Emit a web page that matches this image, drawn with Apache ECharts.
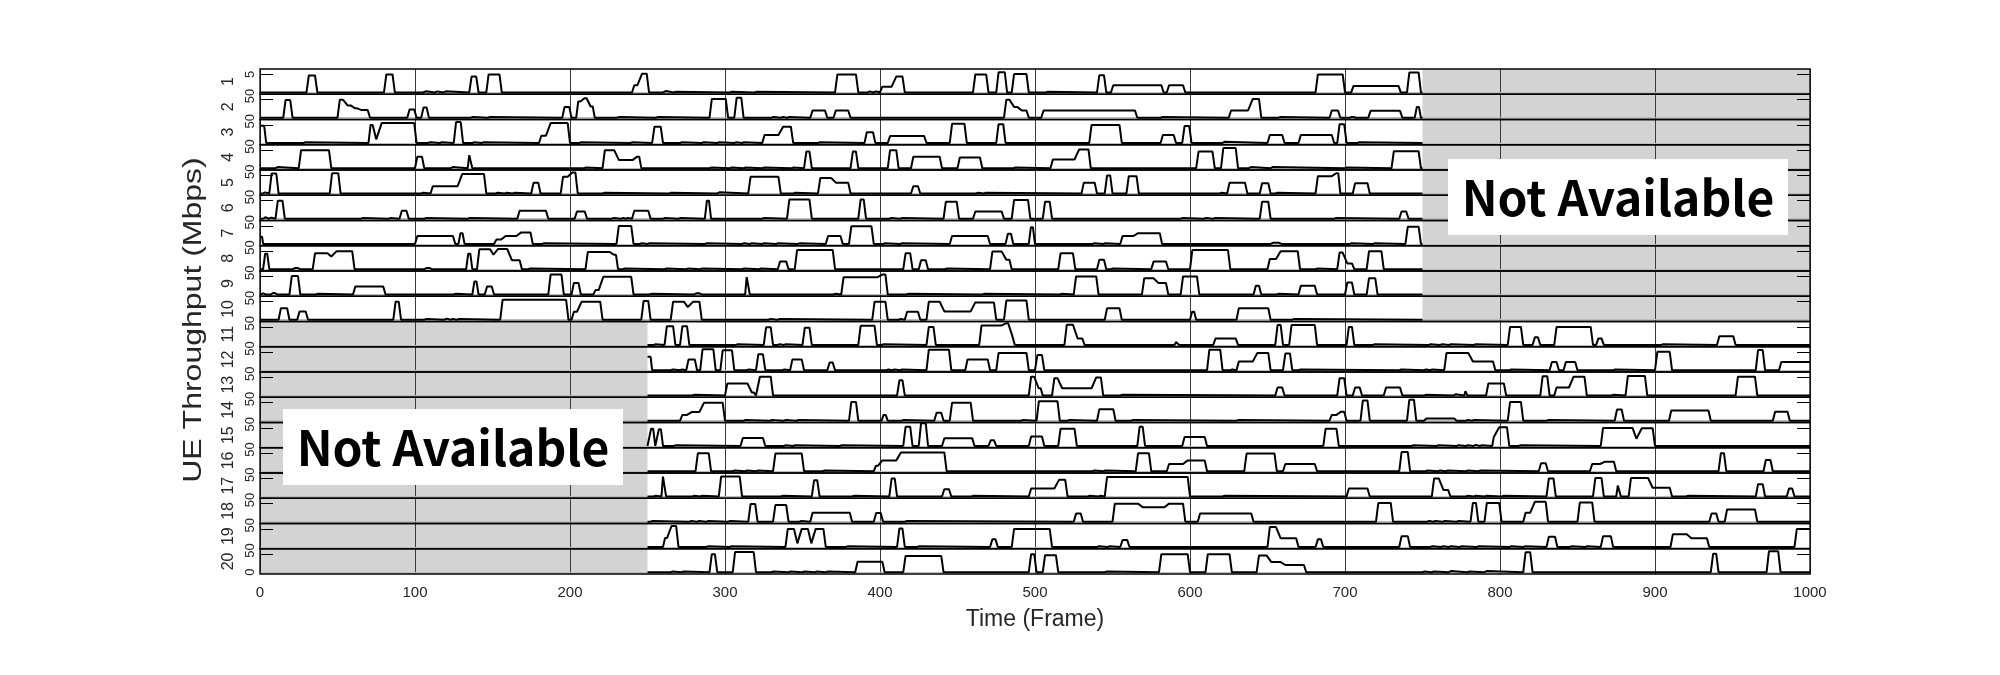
<!DOCTYPE html>
<html>
<head>
<meta charset="utf-8">
<script src="https://cdn.jsdelivr.net/npm/echarts@6/dist/echarts.min.js"></script>
<style>html,body{margin:0;padding:0;background:#fff}#chart{width:2000px;height:675px}</style>
</head>
<body>
<div id="chart"></div>
<script>
// ---------------- data ----------------
// each pulse: [start frame, end frame, throughput Mbps]
const ueLabels = ['1','2','3','4','5','6','7','8','9','10','11','12','13','14','15','16','17','18','19','20'];
const xTickLabels = [0,100,200,300,400,500,600,700,800,900,1000];
const yTickValues = [0, 5];
const topAvail = [0, 750];      // UEs 1-10 available frames
const bottomAvail = [250, 1000]; // UEs 11-20 available frames
const topNA = [750, 1000];
const bottomNA = [0, 250];

const ue1 = [[30,37,4.7],[80,87,5.0],[105,108,0.3],[113,115,0.3],[118,121,0.3],[135,141,4.4],[146,156,5.0],[240,245,2.0],[245,251,5.2],[260,263,0.4],[267,269,0.2],[303,305,0.2],[319,321,0.2],[371,386,5.0],[392,394,0.3],[396,398,0.3],[400,409,1.6],[409,416,4.4],[460,470,5.0],[475,482,5.6],[485,496,5.1],[507,509,0.2],[540,546,4.8],[549,583,2.0],[585,597,2.0],[681,700,5.0],[704,736,1.8],[740,749,5.5]];
const ue2 = [[15,21,4.9],[50,55,5.0],[55,60,3.4],[60,64,2.6],[64,71,2.1],[95,101,2.3],[104,109,2.8],[136,138,0.2],[147,149,0.2],[195,201,3.0],[204,208,4.5],[208,212,5.4],[212,216,3.1],[230,233,0.2],[255,258,0.2],[290,302,5.2],[306,312,5.5],[330,332,0.2],[336,338,0.2],[340,342,0.2],[355,366,2.0],[370,381,2.0],[480,485,5.0],[485,490,3.0],[490,496,2.0],[504,566,2.0],[581,583,0.2],[625,639,2.0],[639,646,5.2],[657,659,0.2],[690,697,2.0],[703,707,0.2],[715,737,1.9],[745,749,3.0]];
const ue3 = [[0,4,4.8],[28,30,0.2],[70,74,5.0],[74,77,1.0],[77,101,5.5],[108,111,0.2],[116,118,0.2],[125,131,5.8],[137,139,0.2],[143,145,0.2],[180,186,2.0],[186,200,5.5],[206,208,0.2],[239,241,0.2],[253,260,4.5],[271,273,0.2],[285,287,0.2],[295,297,0.2],[306,308,0.2],[311,313,0.2],[324,336,2.2],[336,344,4.5],[360,362,0.2],[390,397,3.0],[405,430,1.9],[445,456,5.3],[475,481,5.2],[535,556,5.0],[581,591,2.2],[595,601,4.7],[621,623,0.3],[650,661,2.2],[670,693,2.2],[695,701,5.2],[708,710,0.2]];
const ue4 = [[10,12,0.3],[25,46,5.0],[100,106,3.2],[123,125,0.3],[134,137,3.6],[209,211,0.2],[221,230,5.0],[230,242,2.3],[242,246,3.2],[290,292,0.2],[303,305,0.2],[312,314,0.2],[324,326,0.2],[343,345,0.2],[351,356,4.6],[381,386,4.6],[405,412,5.0],[420,440,3.2],[450,466,3.0],[486,488,0.2],[510,527,2.4],[527,536,5.2],[604,616,4.6],[620,631,5.6],[638,640,0.3],[652,654,0.3],[700,702,0.2],[730,749,4.7]];
const ue5 = [[2,4,0.3],[6,12,5.5],[45,52,5.6],[104,106,0.2],[110,129,2.0],[129,146,5.4],[152,154,0.2],[158,160,0.2],[163,165,0.2],[175,181,3.0],[194,200,4.6],[200,205,5.8],[221,223,0.2],[264,266,0.2],[295,297,0.3],[315,336,4.6],[344,346,0.2],[360,370,4.3],[370,381,3.0],[420,426,2.0],[462,464,0.2],[467,469,0.2],[530,540,3.0],[545,550,5.0],[559,567,4.8],[619,621,0.2],[624,637,3.0],[645,652,2.8],[655,657,0.2],[681,693,4.8],[693,697,5.6],[705,716,2.8]];
const ue6 = [[2,4,0.4],[6,8,0.3],[10,16,5.0],[65,67,0.2],[83,85,0.2],[90,96,2.2],[106,108,0.2],[134,136,0.2],[166,186,2.2],[203,211,2.0],[227,229,0.2],[233,235,0.2],[236,238,0.2],[240,252,2.2],[260,262,0.2],[270,272,0.2],[287,291,5.0],[324,326,0.2],[340,356,5.3],[386,391,5.3],[406,408,0.2],[413,415,0.2],[441,451,4.7],[460,480,2.0],[485,497,5.2],[505,511,4.7],[594,596,0.2],[609,611,0.2],[615,617,0.2],[645,652,4.7],[693,695,0.2],[735,741,2.0]];
const ue7 = [[0,2,2.0],[100,126,2.2],[128,132,3.0],[151,157,1.2],[157,167,2.2],[167,176,3.2],[182,184,0.2],[230,241,5.0],[245,247,0.2],[250,252,0.2],[287,289,0.2],[311,313,0.2],[316,318,0.2],[324,326,0.2],[333,335,0.2],[347,349,0.2],[365,376,2.2],[380,396,4.9],[402,404,0.2],[413,415,0.2],[445,471,2.2],[481,486,2.8],[496,500,4.6],[537,539,0.2],[544,546,0.2],[555,565,2.2],[565,582,3.0],[652,659,0.3],[703,705,0.2],[718,720,0.2],[739,749,4.8]];
const ue8 = [[2,6,4.3],[21,26,0.3],[34,45,4.4],[45,48,3.5],[48,61,5.0],[106,111,0.3],[133,137,4.3],[140,150,5.5],[150,152,4.0],[152,161,5.6],[161,169,2.5],[173,175,0.2],[210,227,4.8],[227,231,4.0],[234,236,0.2],[261,263,0.2],[275,277,0.2],[284,286,0.2],[311,313,0.2],[322,324,0.2],[334,341,2.1],[345,371,5.3],[415,421,4.4],[425,431,2.5],[442,444,0.2],[471,480,4.9],[480,485,2.6],[515,526,4.4],[540,546,2.6],[549,551,0.2],[575,586,2.1],[600,626,5.3],[650,657,2.8],[657,671,5.0],[681,683,0.2],[695,700,4.6],[700,706,1.6],[714,725,5.0]];
const ue9 = [[1,4,0.3],[7,11,0.4],[19,26,5.1],[36,38,0.2],[60,81,2.2],[125,127,0.2],[137,141,3.6],[145,151,2.2],[186,196,5.5],[201,207,3.2],[215,220,1.2],[220,241,4.9],[251,254,0.2],[280,285,0.3],[313,316,4.8],[370,372,0.2],[375,400,4.8],[400,405,5.5],[417,419,0.2],[466,468,0.2],[516,518,0.2],[525,541,5.0],[569,578,4.5],[578,586,3.2],[594,606,5.0],[641,646,2.4],[656,658,0.2],[670,682,2.4],[700,706,3.3],[714,721,4.5]];
const ue10 = [[12,19,3.2],[24,31,2.3],[86,91,5.0],[106,108,0.2],[119,121,0.3],[123,125,0.2],[127,129,0.2],[155,199,5.5],[201,206,2.2],[206,221,5.0],[246,252,5.2],[265,275,5.0],[275,278,3.5],[278,285,5.0],[328,330,0.2],[334,336,0.2],[395,405,5.0],[412,414,0.2],[416,426,2.2],[430,440,5.0],[440,460,2.3],[460,475,4.8],[480,496,5.3],[545,556,3.2],[600,604,2.2],[630,652,3.2],[666,668,0.2]];
const ue11 = [[254,256,0.2],[261,268,5.2],[271,277,5.2],[307,309,0.2],[325,331,4.9],[334,336,0.2],[338,340,0.2],[350,356,4.8],[386,398,5.3],[401,403,0.2],[430,436,5.0],[464,480,5.4],[480,484,6.0],[484,487,3.0],[519,526,5.6],[526,532,1.8],[590,593,0.8],[615,631,1.8],[655,660,5.5],[664,682,5.5],[701,706,5.0],[718,720,0.2],[754,756,0.2],[761,764,0.2],[767,769,0.2],[783,785,0.2],[805,815,5.0],[821,826,2.1],[835,860,5.0],[862,867,1.8],[904,906,0.2],[940,952,2.4]];
const ue12 = [[250,253,3.7],[265,267,0.2],[271,273,0.2],[275,282,3.0],[284,294,5.8],[297,306,5.5],[314,316,0.2],[320,326,4.4],[337,339,0.2],[342,351,3.0],[366,371,2.1],[404,406,0.2],[408,410,0.2],[413,415,0.2],[430,446,5.7],[455,471,3.0],[475,496,4.8],[500,506,4.2],[611,621,5.7],[626,628,0.2],[630,642,2.4],[642,652,4.8],[660,666,4.6],[670,672,0.2],[735,737,0.2],[751,753,0.2],[755,757,0.2],[764,781,4.8],[781,797,2.4],[806,808,0.2],[832,838,2.3],[841,850,2.3],[873,875,0.2],[900,911,5.1],[965,971,5.6],[980,1000,2.3]];
const ue13 = [[279,281,0.2],[300,316,3.3],[316,320,0.8],[321,331,5.2],[411,416,4.2],[496,501,5.2],[501,505,2.0],[511,516,4.8],[516,538,2.0],[538,544,5.0],[555,557,0.2],[655,661,2.2],[695,701,4.8],[705,711,2.2],[725,737,2.2],[751,753,0.2],[770,772,0.3],[777,779,1.2],[791,804,3.3],[826,832,5.3],[835,846,2.2],[846,856,5.2],[872,874,0.2],[881,895,5.4],[952,966,5.2]];
const ue14 = [[271,277,1.6],[277,285,2.4],[285,300,5.0],[312,314,0.2],[329,331,0.2],[338,340,0.2],[346,348,0.2],[380,386,5.2],[401,405,1.6],[414,416,0.2],[435,441,2.2],[445,460,5.0],[491,493,0.2],[501,516,5.4],[521,523,0.2],[540,552,3.2],[562,564,0.2],[630,632,0.2],[690,696,1.6],[696,701,2.5],[710,716,5.6],[740,746,5.8],[751,772,0.6],[778,780,0.2],[782,784,0.2],[805,815,5.2],[830,832,0.2],[874,880,3.1],[909,936,2.8],[976,987,2.5]];
const ue15 = [[251,255,4.8],[256,260,4.6],[267,269,0.2],[310,326,2.2],[338,340,0.2],[344,346,0.2],[374,376,0.2],[415,421,5.3],[425,431,6.3],[440,461,2.1],[470,475,1.6],[496,506,2.6],[515,527,4.8],[566,571,5.3],[595,611,2.5],[686,696,4.8],[743,745,0.2],[759,761,0.2],[772,774,0.2],[778,780,0.2],[783,785,0.3],[787,789,0.2],[795,798,2.5],[798,806,5.2],[812,814,0.2],[865,887,5.0],[887,890,2.0],[890,900,4.9]];
const ue16 = [[281,291,5.0],[305,307,0.2],[313,315,0.2],[320,322,0.2],[331,351,4.9],[363,365,0.2],[396,400,1.5],[400,412,3.0],[412,443,5.2],[537,539,0.2],[544,546,0.2],[565,575,5.0],[585,597,2.0],[597,611,3.0],[635,656,4.9],[660,682,2.0],[735,742,5.3],[752,754,0.2],[760,762,0.2],[765,767,0.2],[778,780,0.2],[786,788,0.2],[825,831,2.2],[858,866,2.0],[866,875,2.6],[941,946,5.0],[970,976,3.1]];
const ue17 = [[254,256,0.2],[259,262,5.5],[279,281,0.2],[284,286,0.2],[296,311,5.5],[336,338,0.2],[356,361,4.5],[382,384,0.2],[406,411,5.0],[440,446,2.0],[459,461,0.2],[496,514,2.2],[514,521,4.6],[534,536,0.2],[541,543,0.2],[545,600,5.4],[621,623,0.2],[701,716,2.2],[756,762,5.0],[762,768,1.8],[778,780,0.2],[783,785,0.2],[790,792,0.2],[801,803,0.2],[830,836,5.0],[860,867,5.1],[875,878,3.0],[883,897,5.1],[897,911,2.4],[920,922,0.2],[965,971,3.4],[985,990,2.2]];
const ue18 = [[252,254,0.2],[277,279,0.2],[282,284,0.2],[288,290,0.2],[302,304,0.2],[315,321,4.9],[331,341,4.6],[348,350,0.2],[355,382,2.5],[396,402,2.4],[416,418,0.2],[525,531,2.3],[550,568,5.0],[568,585,4.0],[585,597,5.0],[605,641,2.3],[720,731,5.2],[753,755,0.2],[757,759,0.2],[763,765,0.2],[772,774,0.2],[781,786,5.2],[790,801,5.2],[815,821,2.5],[821,831,5.5],[850,861,5.3],[935,941,2.3],[945,966,3.4]];
const ue19 = [[260,264,2.5],[264,270,5.8],[288,290,0.2],[303,305,0.2],[339,346,5.0],[346,348,1.0],[348,355,5.0],[355,357,1.0],[357,365,5.0],[378,380,0.2],[411,416,5.1],[424,426,0.2],[471,476,2.1],[485,511,5.0],[540,542,0.2],[547,549,0.2],[555,561,1.9],[650,657,5.5],[657,670,2.4],[681,686,2.1],[735,742,3.0],[755,757,0.2],[762,764,0.2],[767,769,0.2],[774,776,0.2],[785,787,0.2],[806,808,0.2],[815,817,0.2],[830,837,2.8],[845,847,0.2],[855,857,0.2],[865,873,3.0],[910,922,3.5],[922,935,2.4],[990,1000,5.0]];
const ue20 = [[265,267,0.2],[272,274,0.2],[290,295,5.0],[305,320,5.6],[330,332,0.2],[341,343,0.2],[350,352,0.2],[358,360,0.2],[365,367,0.2],[384,403,2.9],[415,441,4.5],[496,501,5.0],[505,515,4.7],[545,547,0.2],[580,600,5.0],[610,627,5.0],[643,651,4.6],[651,660,2.8],[660,675,2.0],[750,752,0.2],[756,758,0.2],[767,769,0.3],[779,781,0.2],[790,792,0.3],[815,821,5.5],[936,941,5.1],[972,981,5.8]];

const uePulses = [ue1,ue2,ue3,ue4,ue5,ue6,ue7,ue8,ue9,ue10,ue11,ue12,ue13,ue14,ue15,ue16,ue17,ue18,ue19,ue20];

// ---------------- build traces from the read pulses ----------------
function buildTrace(pulses, x0, x1) {
  const pts = [[x0, 0]];
  for (let k = 0; k < pulses.length; k++) {
    const [s, e, h] = pulses[k];
    const prev = pulses[k - 1], next = pulses[k + 1];
    const r = Math.min(1.5, (e - s) / 3);
    const joinedPrev = prev && prev[1] >= s;
    const joinedNext = next && next[0] <= e;
    if (!joinedPrev) {
      if (s <= x0) { pts.pop(); pts.push([x0, h]); }
      else { pts.push([s, 0]); pts.push([s + r, h]); }
    } else {
      pts.push([s + r, h]);
    }
    if (e >= x1) { pts.push([x1, h]); return pts; }
    pts.push([e - r, h]);
    if (!joinedNext) pts.push([e, 0]);
  }
  pts.push([x1, 0]);
  return pts;
}

// ---------------- layout ----------------
const N = 20;
const PL = 260, PR = 1810, PT = 69, PB = 574;
const H = (PB - PT) / N;
const TXT = '#262626';
const FONT = '"Liberation Sans", Arial, Helvetica, sans-serif';

const grids = [], xAxes = [], yAxes = [], series = [];
for (let i = 0; i < N; i++) {
  const last = i === N - 1;
  grids.push({ left: PL, width: PR - PL, top: PT + i * H, height: H, show: true,
    borderColor: '#000', borderWidth: 1.3, backgroundColor: 'transparent', z: 3 });
  xAxes.push({ gridIndex: i, type: 'value', min: xTickLabels[0], max: xTickLabels[xTickLabels.length - 1], interval: 100, z: 1.5,
    axisLine: { show: true, onZero: true, lineStyle: { color: '#bdbdbd', width: 1 } },
    axisTick: { show: false },
    axisLabel: { show: last, fontSize: 15, color: TXT, fontFamily: FONT, margin: 11, formatter: v => String(v) },
    splitLine: { show: true, lineStyle: { color: '#3a3a3a', width: 1 } },
    name: last ? 'Time (Frame)' : '', nameLocation: 'middle', nameGap: 34,
    nameTextStyle: { fontSize: 23, color: TXT, fontFamily: FONT } });
  yAxes.push({ gridIndex: i, type: 'value', min: -0.5, max: 6.5, position: 'left', z: 3,
    name: ueLabels[i], nameLocation: 'middle', nameRotate: 90, nameGap: 8,
    nameTextStyle: { fontSize: 16, color: TXT, fontFamily: FONT },
    axisLine: { show: false },
    axisTick: { show: true, inside: true, length: 13, customValues: [yTickValues[1]], lineStyle: { color: '#000', width: 1 } },
    axisLabel: { show: true, customValues: yTickValues, rotate: 90, fontSize: 13, color: TXT, fontFamily: FONT, margin: 3 },
    splitLine: { show: false } });
  yAxes.push({ gridIndex: i, type: 'value', min: -0.5, max: 6.5, position: 'right', z: 3,
    axisLine: { show: false }, axisLabel: { show: false }, splitLine: { show: false },
    axisTick: { show: true, inside: true, length: 13, customValues: [yTickValues[1]], lineStyle: { color: '#000', width: 1 } } });
  const avail = i < 10 ? topAvail : bottomAvail;
  const na = i < 10 ? topNA : bottomNA;
  series.push({ type: 'line', xAxisIndex: i, yAxisIndex: 2 * i, z: 1, silent: true,
    data: [[na[0], -5]], symbol: 'none', lineStyle: { opacity: 0 },
    markArea: { silent: true, itemStyle: { color: '#d3d3d3' },
      data: [[{ xAxis: na[0], yAxis: -0.5 }, { xAxis: na[1], yAxis: 6.5 }]] } });
  series.push({ type: 'line', xAxisIndex: i, yAxisIndex: 2 * i, z: 2, silent: true,
    data: buildTrace(uePulses[i], avail[0], avail[1]), symbol: 'none', showSymbol: false,
    lineStyle: { color: '#000', width: 2 }, clip: true });
}

const chart = echarts.init(document.getElementById('chart'), null, { renderer: 'canvas' });
chart.setOption({
  animation: false,
  backgroundColor: '#ffffff',
  grid: grids, xAxis: xAxes, yAxis: yAxes, series: series,
  graphic: [
    { type: 'text', x: 194, y: 320, rotation: Math.PI / 2, scaleY: 0.8, z: 100,
      style: { text: 'UE Throughput (Mbps)', font: '32px ' + FONT, fill: TXT, textAlign: 'center', textVerticalAlign: 'middle', align: 'center', verticalAlign: 'middle' } },
    { type: 'rect', shape: { x: 283, y: 409, width: 340, height: 76 }, style: { fill: '#fff' }, z: 100 },
    { type: 'text', x: 453, y: 448, z: 101,
      style: { text: 'Not Available', font: '600 48px "Noto Sans CJK SC", "Noto Sans", sans-serif', fill: '#000', textAlign: 'center', textVerticalAlign: 'middle', align: 'center', verticalAlign: 'middle' } },
    { type: 'rect', shape: { x: 1448, y: 159, width: 340, height: 76 }, style: { fill: '#fff' }, z: 100 },
    { type: 'text', x: 1618, y: 198, z: 101,
      style: { text: 'Not Available', font: '600 48px "Noto Sans CJK SC", "Noto Sans", sans-serif', fill: '#000', textAlign: 'center', textVerticalAlign: 'middle', align: 'center', verticalAlign: 'middle' } }
  ]
});
</script>
</body>
</html>
